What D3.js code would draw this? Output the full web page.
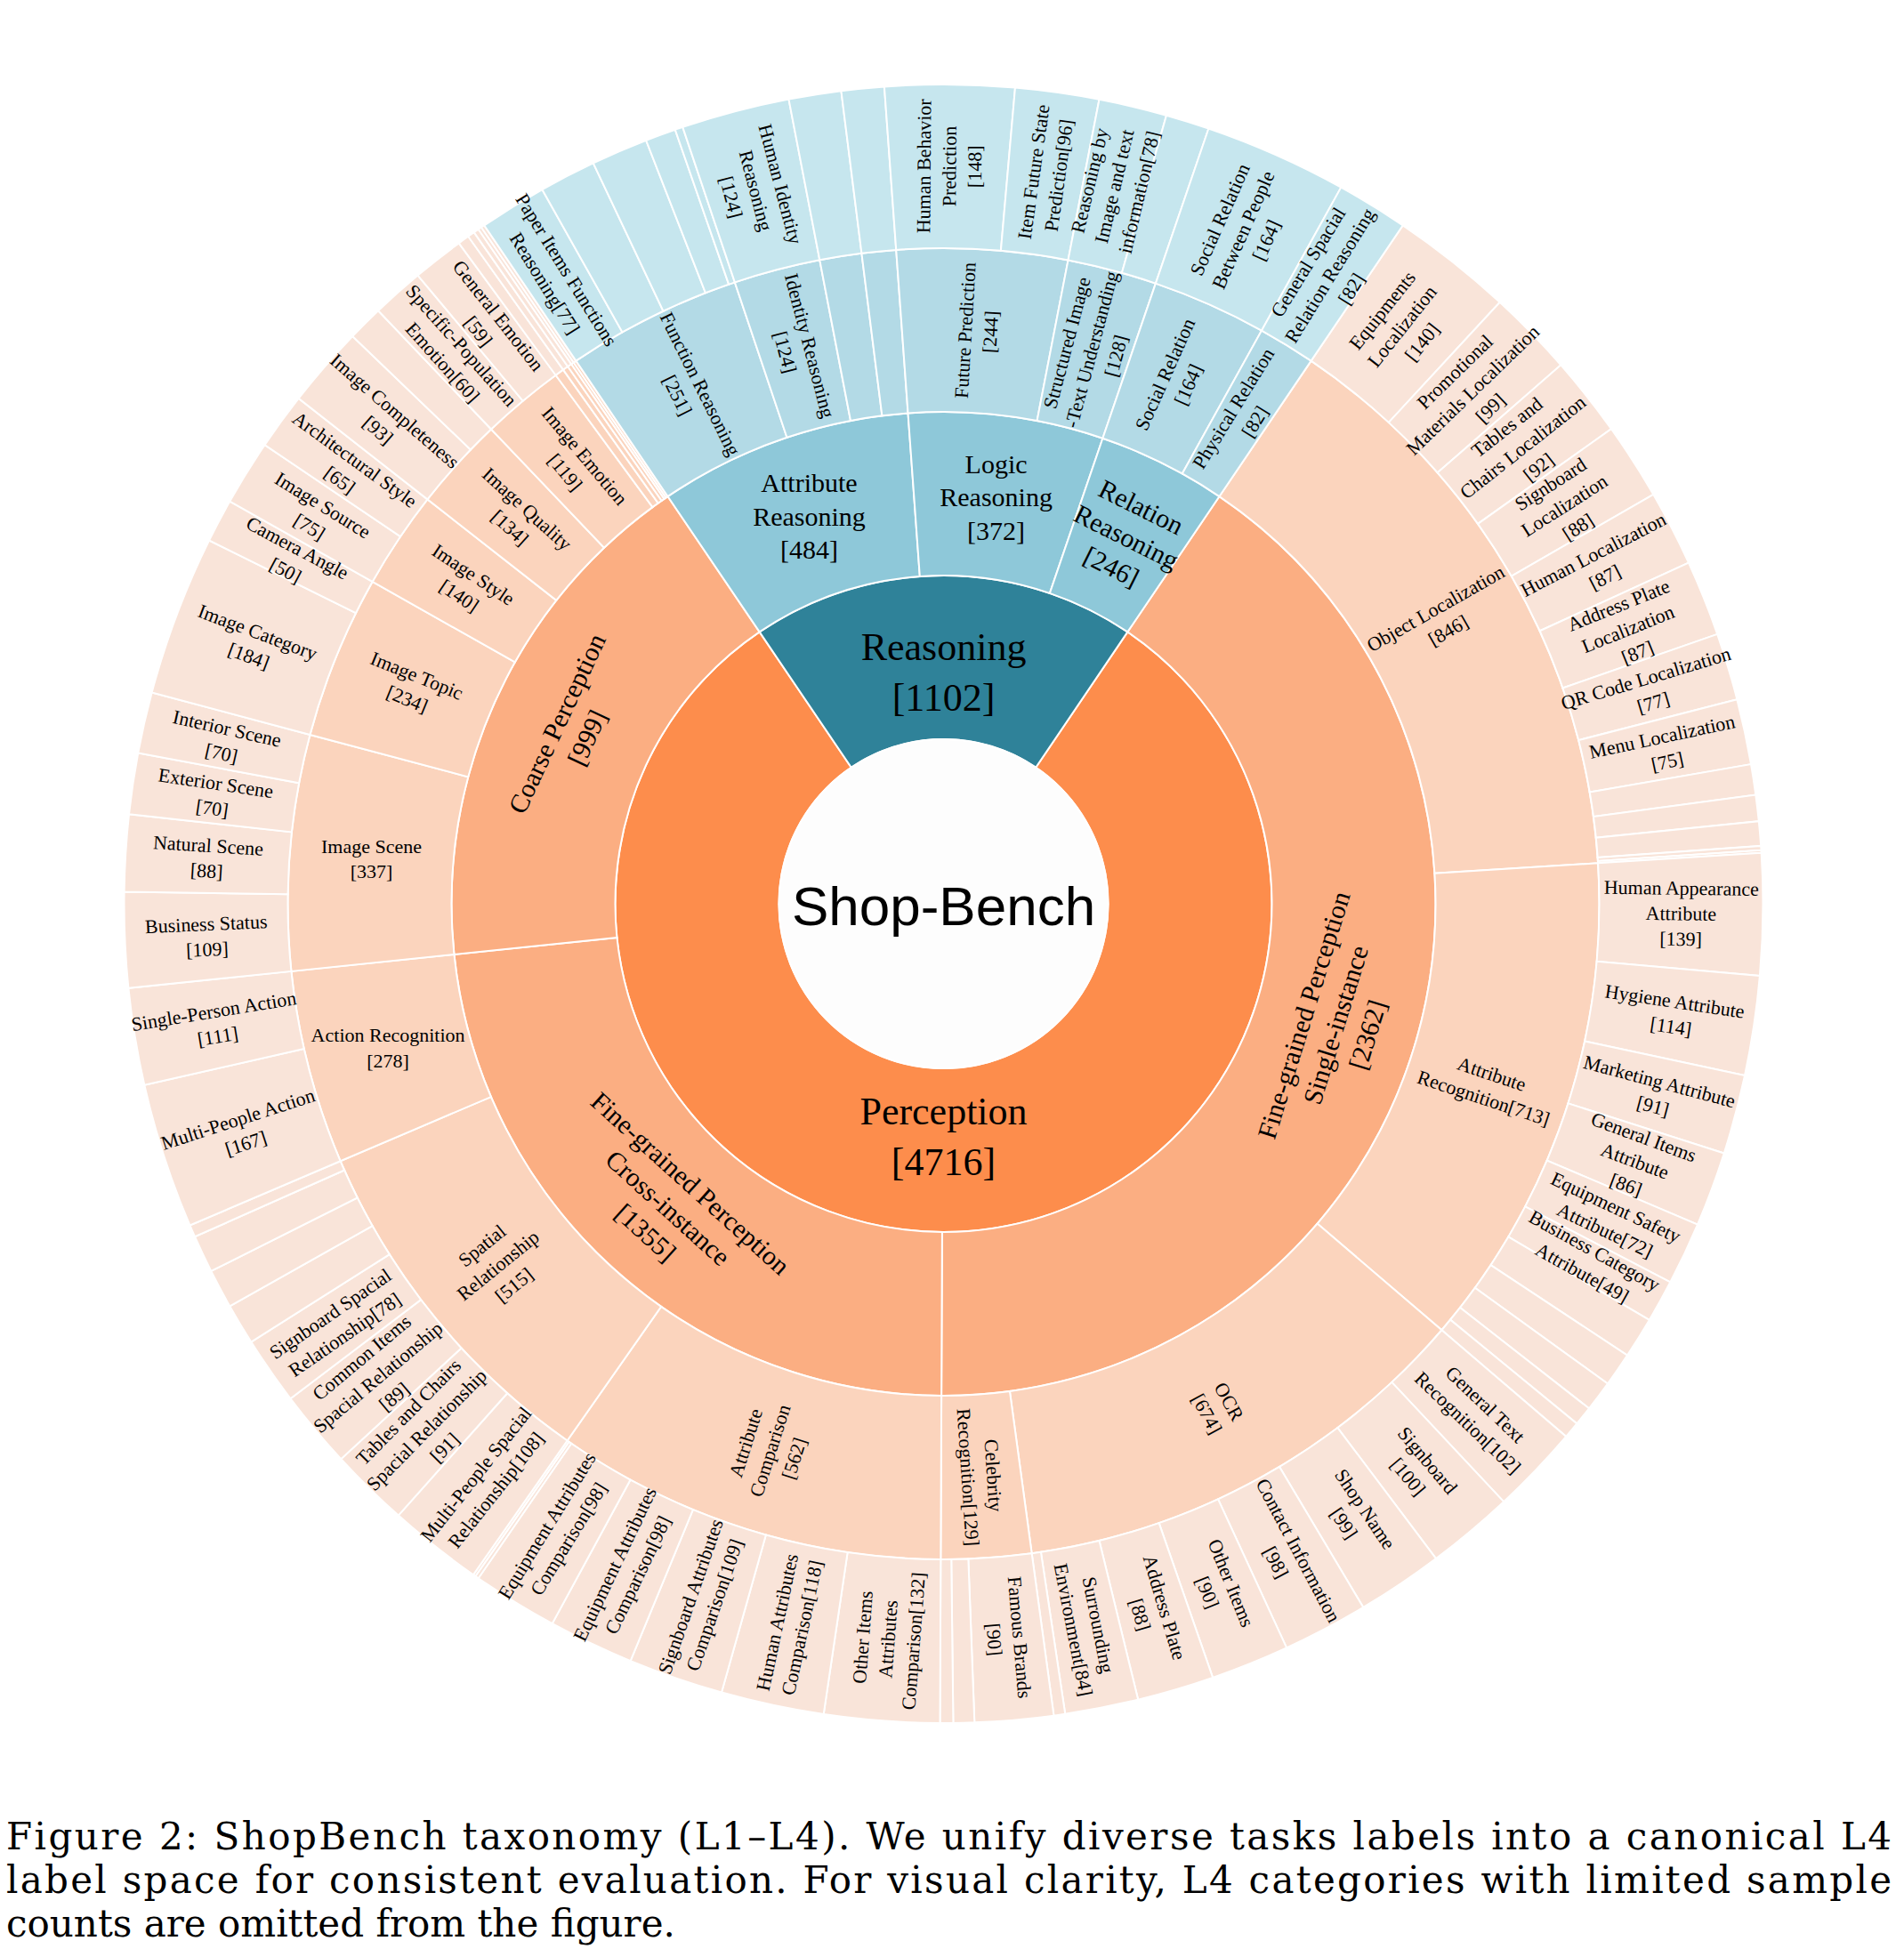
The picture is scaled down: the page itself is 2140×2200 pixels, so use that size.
<!DOCTYPE html>
<html>
<head>
<meta charset="utf-8">
<script src="https://cdn.jsdelivr.net/npm/d3@7"></script>
<style>
  body { margin: 0; background: #fff; }
  svg { display: block; }
</style>
</head>
<body>
<script>
// ---- data: [id, parent, label] for the inner levels ----
const level1 = [
  ["Perception", "root", "Perception\n[4716]"],
  ["Reasoning", "root", "Reasoning\n[1102]"],
];

const level2 = [
  ["Attribute Reasoning", "Reasoning", "Attribute\nReasoning\n[484]"],
  ["Logic Reasoning", "Reasoning", "Logic\nReasoning\n[372]"],
  ["Relation Reasoning", "Reasoning", "Relation\nReasoning\n[246]"],
  ["Single-instance", "Perception", "Fine-grained Perception\nSingle-instance\n[2362]"],
  ["Cross-instance", "Perception", "Fine-grained Perception\nCross-instance\n[1355]"],
  ["Coarse Perception", "Perception", "Coarse Perception\n[999]"],
];

const level3 = [
  ["Function Reasoning", "Attribute Reasoning", "Function Reasoning\n[251]"],
  ["Identity Reasoning", "Attribute Reasoning", "Identity Reasoning\n[124]"],
  ["Attribute Reasoning #3", "Attribute Reasoning", ""],
  ["Attribute Reasoning #4", "Attribute Reasoning", ""],
  ["Future Prediction", "Logic Reasoning", "Future Prediction\n[244]"],
  ["Structured Image-Text", "Logic Reasoning", "Structured Image\n-Text Understanding\n[128]"],
  ["Social Relation", "Relation Reasoning", "Social Relation\n[164]"],
  ["Physical Relation", "Relation Reasoning", "Physical Relation\n[82]"],
  ["Object Localization", "Single-instance", "Object Localization\n[846]"],
  ["Attribute Recognition", "Single-instance", "Attribute\nRecognition[713]"],
  ["OCR", "Single-instance", "OCR\n[674]"],
  ["Celebrity Recognition", "Single-instance", "Celebrity\nRecognition[129]"],
  ["Attribute Comparison", "Cross-instance", "Attribute\nComparison\n[562]"],
  ["Spatial Relationship", "Cross-instance", "Spatial\nRelationship\n[515]"],
  ["Action Recognition", "Cross-instance", "Action Recognition\n[278]"],
  ["Image Scene", "Coarse Perception", "Image Scene\n[337]"],
  ["Image Topic", "Coarse Perception", "Image Topic\n[234]"],
  ["Image Style", "Coarse Perception", "Image Style\n[140]"],
  ["Image Quality", "Coarse Perception", "Image Quality\n[134]"],
  ["Image Emotion", "Coarse Perception", "Image Emotion\n[119]"],
  ["Coarse Perception #6", "Coarse Perception", ""],
  ["Coarse Perception #7", "Coarse Perception", ""],
  ["Coarse Perception #8", "Coarse Perception", ""],
  ["Coarse Perception #9", "Coarse Perception", ""],
  ["Coarse Perception #10", "Coarse Perception", ""],
];

// ---- leaves (L4): [parent, label, value]; "" = label omitted in the figure ----
const reasoningLeaves = [
  ["Function Reasoning", "Paper Items Functions\nReasoning[77]", 77],
  ["Function Reasoning", "", 65],
  ["Function Reasoning", "", 65],
  ["Function Reasoning", "", 35],
  ["Function Reasoning", "", 9],
  ["Identity Reasoning", "Human Identity\nReasoning\n[124]", 124],
  ["Attribute Reasoning #3", "", 60],
  ["Attribute Reasoning #4", "", 49],
  ["Future Prediction", "Human Behavior\nPrediction\n[148]", 148],
  ["Future Prediction", "Item Future State\nPrediction[96]", 96],
  ["Structured Image-Text", "Reasoning by\nImage and text\ninformation[78]", 78],
  ["Structured Image-Text", "", 50],
  ["Social Relation", "Social Relation\nBetween People\n[164]", 164],
  ["Physical Relation", "General Spacial\nRelation Reasoning\n[82]", 82],
];

const singleInstanceLeaves = [
  ["Object Localization", "Equipments\nLocalization\n[140]", 140],
  ["Object Localization", "Promotional\nMaterials Localization\n[99]", 99],
  ["Object Localization", "Tables and\nChairs Localization\n[92]", 92],
  ["Object Localization", "Signboard\nLocalization\n[88]", 88],
  ["Object Localization", "Human Localization\n[87]", 87],
  ["Object Localization", "Address Plate\nLocalization\n[87]", 87],
  ["Object Localization", "QR Code Localization\n[77]", 77],
  ["Object Localization", "Menu Localization\n[75]", 75],
  ["Object Localization", "", 35],
  ["Object Localization", "", 30],
  ["Object Localization", "", 28],
  ["Object Localization", "", 5],
  ["Object Localization", "", 3],
  ["Attribute Recognition", "Human Appearance\nAttribute\n[139]", 139],
  ["Attribute Recognition", "Hygiene Attribute\n[114]", 114],
  ["Attribute Recognition", "Marketing Attribute\n[91]", 91],
  ["Attribute Recognition", "General Items\nAttribute\n[86]", 86],
  ["Attribute Recognition", "Equipment Safety\nAttribute[72]", 72],
  ["Attribute Recognition", "Business Category\nAttribute[49]", 49],
  ["Attribute Recognition", "", 47],
  ["Attribute Recognition", "", 39],
  ["Attribute Recognition", "", 35],
  ["Attribute Recognition", "", 22],
  ["Attribute Recognition", "", 19],
  ["OCR", "General Text\nRecognition[102]", 102],
  ["OCR", "Signboard\n[100]", 100],
  ["OCR", "Shop Name\n[99]", 99],
  ["OCR", "Contact Information\n[98]", 98],
  ["OCR", "Other Items\n[90]", 90],
  ["OCR", "Address Plate\n[88]", 88],
  ["OCR", "Surrounding\nEnvironment[84]", 84],
  ["OCR", "", 13],
  ["Celebrity Recognition", "Famous Brands\n[90]", 90],
  ["Celebrity Recognition", "", 24],
  ["Celebrity Recognition", "", 15],
];

const crossInstanceLeaves = [
  ["Attribute Comparison", "Other Items\nAttributes\nComparison[132]", 132],
  ["Attribute Comparison", "Human Attributes\nComparison[118]", 118],
  ["Attribute Comparison", "Signboard Attributes\nComparison[109]", 109],
  ["Attribute Comparison", "Equipment Attributes\nComparison[98]", 98],
  ["Attribute Comparison", "Equipment Attributes\nComparison[98]", 98],
  ["Attribute Comparison", "", 4],
  ["Attribute Comparison", "", 3],
  ["Spatial Relationship", "Multi-People Spacial\nRelationship[108]", 108],
  ["Spatial Relationship", "Tables and Chairs\nSpacial Relationship\n[91]", 91],
  ["Spatial Relationship", "Common Items\nSpacial Relationship\n[89]", 89],
  ["Spatial Relationship", "Signboard Spacial\nRelationship[78]", 78],
  ["Spatial Relationship", "", 47],
  ["Spatial Relationship", "", 45],
  ["Spatial Relationship", "", 43],
  ["Spatial Relationship", "", 14],
  ["Action Recognition", "Multi-People Action\n[167]", 167],
  ["Action Recognition", "Single-Person Action\n[111]", 111],
];

const coarseLeaves = [
  ["Image Scene", "Business Status\n[109]", 109],
  ["Image Scene", "Natural Scene\n[88]", 88],
  ["Image Scene", "Exterior Scene\n[70]", 70],
  ["Image Scene", "Interior Scene\n[70]", 70],
  ["Image Topic", "Image Category\n[184]", 184],
  ["Image Topic", "Camera Angle\n[50]", 50],
  ["Image Style", "Image Source\n[75]", 75],
  ["Image Style", "Architectural Style\n[65]", 65],
  ["Image Quality", "Image Completeness\n[93]", 93],
  ["Image Quality", "", 41],
  ["Image Emotion", "Specific-Population\nEmotion[60]", 60],
  ["Image Emotion", "General Emotion\n[59]", 59],
  ["Coarse Perception #6", "", 13],
  ["Coarse Perception #7", "", 8],
  ["Coarse Perception #8", "", 6],
  ["Coarse Perception #9", "", 4],
  ["Coarse Perception #10", "", 4],
];

const captionLines = [
  "Figure 2: ShopBench taxonomy (L1\u2013L4). We unify diverse tasks labels into a canonical L4",
  "label space for consistent evaluation. For visual clarity, L4 categories with limited sample",
  "counts are omitted from the figure.",
];

// ---- chart settings ----
const width = 2140, height = 2200;
const cx = 1060.5, cy = 1016;
const radii = [0, 185, 369, 553, 737, 921];
const fontSize = [62, 44, 30, 22, 22];
const lineHeight = [1.3, 1.3, 1.25, 1.3, 1.3];
const palette = {
  Perception: ["#FD8D4C", "#FBAE82", "#FBD4BD", "#F9E4D9"],
  Reasoning: ["#2F8299", "#8EC8D9", "#B3DAE6", "#C6E6EE"],
};
// labels drawn flat instead of following the ring
const horizontalLabels = new Set(["Attribute Reasoning", "Logic Reasoning", "Image Scene", "Action Recognition"]);
const serif = "'Liberation Serif', 'Times New Roman', serif";

// build hierarchy
const rows = [["root", null, "Shop-Bench"], ...level1, ...level2, ...level3]
  .map(([id, parent, label]) => ({ id, parent, label, value: 0 }));
[...reasoningLeaves, ...singleInstanceLeaves, ...crossInstanceLeaves, ...coarseLeaves]
  .forEach(([parent, label, value], i) => rows.push({ id: parent + "/" + i, parent, label, value }));

const root = d3.stratify().id(d => d.id).parentId(d => d.parent)(rows)
  .sum(d => d.value)
  .sort((a, b) => b.value - a.value);
d3.partition().size([2 * Math.PI, 1])(root);

// rotate so that Reasoning sits centred at 12 o'clock
const reasoning = root.children.find(d => d.id === "Reasoning");
const rot = -(reasoning.x0 + reasoning.x1) / 2;

const svg = d3.select("body").append("svg")
  .attr("width", width)
  .attr("height", height)
  .attr("viewBox", [0, 0, width, height]);

const g = svg.append("g").attr("transform", `translate(${cx},${cy})`);

const arc = d3.arc()
  .startAngle(d => d.x0 + rot)
  .endAngle(d => d.x1 + rot)
  .innerRadius(d => radii[d.depth])
  .outerRadius(d => radii[d.depth + 1]);

const nodes = root.descendants().filter(d => d.depth > 0);

g.append("g")
  .selectAll("path")
  .data(nodes)
  .join("path")
  .attr("d", arc)
  .attr("fill", d => palette[d.ancestors().find(a => a.depth === 1).id][d.depth - 1])
  .attr("stroke", "#fff")
  .attr("stroke-width", 2);

// centre
g.append("circle").attr("r", radii[1]).attr("fill", "#fdfdfd").attr("stroke", "#fff").attr("stroke-width", 2);
g.append("text")
  .attr("text-anchor", "middle")
  .attr("y", 24)
  .attr("font-family", "'Liberation Sans', Arial, sans-serif")
  .attr("font-size", fontSize[0])
  .attr("fill", "#000")
  .text(root.data.label);

function labelTransform(d) {
  const a = (d.x0 + d.x1) / 2 + rot;
  let r = (radii[d.depth] + radii[d.depth + 1]) / 2;
  if (d.depth === 1) r -= 16;
  const x = r * Math.sin(a), y = -r * Math.cos(a);
  const deg = ((a * 180 / Math.PI) % 360 + 360) % 360;
  let turn = 0;
  if (d.depth === 1 || horizontalLabels.has(d.id)) turn = 0;
  else if (d.depth === 2) turn = (deg > 90 && deg < 270) ? deg - 180 : deg;
  else turn = deg < 180 ? deg - 90 : deg - 270;
  return `translate(${x},${y}) rotate(${turn})`;
}

const labels = g.append("g")
  .attr("font-family", serif)
  .attr("fill", "#000")
  .attr("text-anchor", "middle")
  .selectAll("text")
  .data(nodes.filter(d => d.data.label))
  .join("text")
  .attr("transform", labelTransform)
  .attr("font-size", d => fontSize[d.depth]);

labels.each(function(d) {
  const lines = d.data.label.split("\n");
  const lh = fontSize[d.depth] * lineHeight[d.depth];
  d3.select(this).selectAll("tspan")
    .data(lines)
    .join("tspan")
    .attr("x", 0)
    .attr("y", (t, i) => (i - (lines.length - 1) / 2) * lh)
    .attr("dy", "0.35em")
    .text(t => t);
});

// caption
const caption = svg.append("g")
  .attr("font-family", "'DejaVu Serif', serif")
  .attr("font-size", 42)
  .attr("fill", "#000");
captionLines.forEach((t, i) => {
  const txt = caption.append("text")
    .attr("x", 7)
    .attr("y", 2079 + i * 49)
    .text(t);
  if (i < captionLines.length - 1) txt.attr("textLength", 2119).attr("lengthAdjust", "spacing");
});
</script>
</body>
</html>
